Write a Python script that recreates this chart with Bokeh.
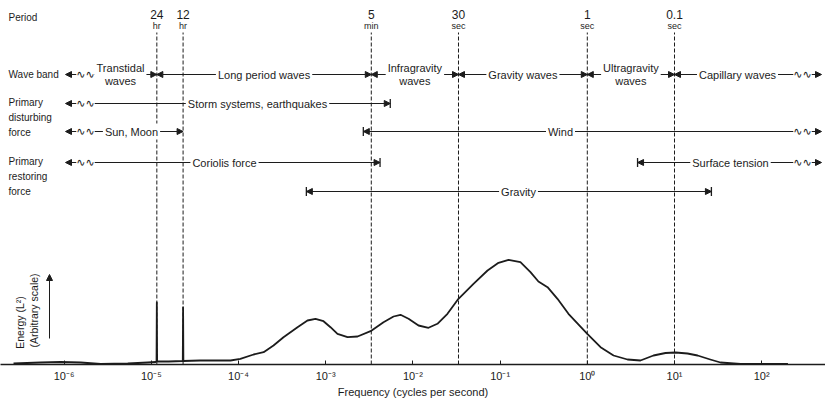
import numpy as np
from bokeh.plotting import figure
from bokeh.models import (Range1d, FixedTicker, Arrow, NormalHead, TeeHead,
                          ColumnDataSource, CustomJSTickFormatter)
from bokeh.core.properties import value
from bokeh.embed import file_html
from bokeh.resources import INLINE

# ---------------- data ----------------
# spectrum (frequency in cycles per second, energy in arbitrary units)
freq = [2.63e-7, 5.37e-7, 9.12e-7, 1.55e-6, 2.63e-6, 5.37e-6, 9.12e-6, 1.12e-5,
        1.148e-5, 1.157e-5, 1.166e-5, 1.58e-5,
        2.296e-5, 2.315e-5, 2.334e-5, 3.63e-5, 8.1e-5,
        1.05e-4, 1.49e-4, 1.94e-4, 2.52e-4, 3.28e-4, 4.75e-4, 6.18e-4, 7.64e-4,
        9.44e-4, 1.135e-3, 1.365e-3, 1.78e-3, 2.32e-3, 3.27e-3, 4.60e-3, 6.0e-3,
        7.21e-3, 8.91e-3, 1.16e-2, 1.51e-2, 1.91e-2, 2.49e-2, 3.33e-2, 4.95e-2,
        7.18e-2, 9.59e-2, 0.125, 0.171, 0.223, 0.275, 0.350, 0.455, 0.608,
        1.0, 1.42, 2.0, 2.89, 4.07, 5.74, 7.89, 10.3, 14.1, 18.4, 25.7, 33.7,
        57.1, 200.0]
energy = [1.0, 2.0, 2.5, 2.0, 0.5, 1.0, 2.0, 2.5,
          3.0, 62.0, 3.0, 3.0,
          3.5, 57.0, 3.5, 4.0, 4.0,
          5.7, 10.0, 12.3, 19.0, 27.3, 37.3, 44.0, 45.7,
          43.3, 37.3, 30.7, 27.3, 28.0, 33.3, 42.3, 48.0,
          49.7, 45.7, 39.0, 36.7, 40.7, 50.7, 65.7, 80.7,
          94.0, 101.7, 104.7, 102.3, 92.3, 83.0, 77.3, 65.7, 50.7,
          30.7, 17.3, 9.0, 5.0, 4.0, 9.0, 11.5, 12.0, 11.0, 9.0, 5.0, 2.0,
          0.5, 0.5]

period_s = [86400, 43200, 300, 30, 1, 0.1]
period_num = ["24", "12", "5", "30", "1", "0.1"]
period_unit = ["hr", "hr", "min", "sec", "sec", "sec"]

tick_exp = [-6, -5, -4, -3, -2, -1, 0, 1, 2]
tick_labels = ["10⁻⁶", "10⁻⁵", "10⁻⁴", "10⁻³", "10⁻²", "10⁻¹", "10⁰", "10¹", "10²"]

band_names = ["Transtidal\nwaves", "Long period waves", "Infragravity\nwaves",
              "Gravity waves", "Ultragravity\nwaves", "Capillary waves"]
band_edge_periods = [86400, 300, 30, 1, 0.1]

# forces: label, left end freq (None = open), right end freq (None = open)
force_names = ["Storm systems, earthquakes", "Sun, Moon", "Wind",
               "Coriolis force", "Surface tension", "Gravity"]
force_left = [None, None, 2.7e-3, None, 3.77, 6.0e-4]
force_right = [5.5e-3, 1.0 / 43200, None, 4.2e-3, None, 26.5]
force_right_bar = [True, False, False, True, False, True]

# ---------------- layout ----------------
W, H = 825, 408
DEC = 87.2                          # px per decade
BASE = 364                          # page y of baseline
INK = "#1c1c1c"
FONT = "Liberation Sans"


def fx(xpage):
    return 10 ** (-4 + (xpage - 238) / DEC)


def fy(ypage):
    return BASE - ypage


p = figure(width=W, height=H, x_axis_type="log",
           x_range=Range1d(fx(0), fx(W)), y_range=Range1d(0, BASE),
           output_backend="svg", toolbar_location=None, y_axis_location=None,
           min_border_left=0, min_border_right=0, min_border_top=0,
           min_border_bottom=H - BASE)
p.grid.visible = False
p.outline_line_color = None
p.background_fill_color = "white"

ax = p.xaxis[0]
ax.ticker = FixedTicker(ticks=[10.0 ** e for e in tick_exp])
ax.formatter = CustomJSTickFormatter(args=dict(labels=tick_labels, exps=tick_exp), code="""
    const e = Math.round(Math.log10(tick));
    const i = exps.indexOf(e);
    return i >= 0 ? labels[i] : "";
""")
ax.major_tick_in = 4
ax.major_tick_out = 0
ax.minor_tick_line_color = None
ax.axis_line_width = 1.6
ax.axis_line_color = INK
ax.major_tick_line_color = INK
ax.major_label_text_font = FONT
ax.major_label_text_font_size = "11px"
ax.major_label_text_color = INK
ax.major_label_standoff = 5
ax.axis_label = "Frequency (cycles per second)"
ax.axis_label_text_font = FONT
ax.axis_label_text_font_size = "11px"
ax.axis_label_text_font_style = "normal"
ax.axis_label_text_color = INK
ax.axis_label_standoff = 1

# period dashed lines
pf = [1.0 / s for s in period_s]
p.segment(x0=pf, y0=[0] * len(pf), x1=pf, y1=[fy(32)] * len(pf),
          line_color=INK, line_width=1, line_dash="4 2")
p.text(x=pf, y=[fy(14)] * len(pf), text=period_num, text_align="center",
       text_baseline="middle", text_font=value(FONT), text_font_size="12px",
       text_color=INK)
p.text(x=pf, y=[fy(25)] * len(pf), text=period_unit, text_align="center",
       text_baseline="middle", text_font=value(FONT), text_font_size="9px",
       text_color=INK)

# spectrum
p.line(freq, energy, line_color=INK, line_width=1.8, line_join="round")

# ---------------- annotation rows ----------------
LEFT_TIP, RIGHT_TIP = fx(65), fx(821)
LEFT_SQ, RIGHT_SQ = fx(85), fx(802)
head_rows = dict(x0=[], y0=[], x1=[], y1=[])
tee_rows = dict(x0=[], y0=[], x1=[], y1=[])
labels = dict(x=[], y=[], t=[])
squig = dict(x=[], y=[])


def add_row(y, center, label, left, right, left_bar, right_bar):
    for end, bar, sq in ((left, left_bar, LEFT_SQ), (right, right_bar, RIGHT_SQ)):
        tip = end
        if end is None:
            tip = LEFT_TIP if sq is LEFT_SQ else RIGHT_TIP
            squig["x"].append(sq)
            squig["y"].append(y)
        for d in (head_rows,) + ((tee_rows,) if bar else ()):
            d["x0"].append(center)
            d["y0"].append(y)
            d["x1"].append(tip)
            d["y1"].append(y)
    labels["x"].append(center)
    labels["y"].append(y)
    labels["t"].append(label)


# wave bands
edges = [None] + [1.0 / s for s in band_edge_periods] + [None]
band_centers_px = {0: 120, 5: 737}
for i, name in enumerate(band_names):
    lo, hi = edges[i], edges[i + 1]
    if lo is not None and hi is not None:
        c = np.sqrt(lo * hi)
    else:
        c = fx(band_centers_px[i])
    add_row(fy(74), c, name, lo, hi, False, False)

force_rows_y = [103, 131, 131, 162, 162, 191]
force_centers_px = [257, 131, 560, 224, 730, 518]
for name, lo, hi, rb, ry, cx in zip(force_names, force_left, force_right,
                                    force_right_bar, force_rows_y, force_centers_px):
    add_row(fy(ry), fx(cx), name, lo, hi, lo is not None, rb)

p.add_layout(Arrow(source=ColumnDataSource(head_rows), x_start="x0", y_start="y0",
                   x_end="x1", y_end="y1", line_color=INK, line_width=1,
                   end=NormalHead(size=6, fill_color=INK, line_color=INK, line_width=1)))
p.add_layout(Arrow(source=ColumnDataSource(tee_rows), x_start="x0", y_start="y0",
                   x_end="x1", y_end="y1", line_color=INK, line_width=1,
                   end=TeeHead(size=9, line_color=INK, line_width=1.3)))

lr = p.text(x="x", y="y", text="t", source=ColumnDataSource(labels),
            text_align="center", text_baseline="middle", text_font=value(FONT),
            text_font_size="11px", text_color=INK, text_line_height=1.1,
            background_fill_color="white", padding=2)
lr.level = "overlay"
sr = p.text(x="x", y="y", text=value("∿∿"), source=ColumnDataSource(squig),
            text_align="center", text_baseline="middle", text_font=value("DejaVu Sans"),
            text_font_size="11px", text_color=INK, background_fill_color="white", padding=0)
sr.level = "overlay"

# left captions
left_txt = ["Period", "Wave band", "Primary\ndisturbing\nforce", "Primary\nrestoring\nforce"]
left_y = [17, 74, 117, 176]
p.text(x=[fx(8)] * 4, y=[fy(v) for v in left_y], text=left_txt, text_align="left",
       text_baseline="middle", text_font=value(FONT), text_font_size="10px",
       text_color=INK, text_line_height=1.35)

# energy axis caption
p.text(x=[fx(19), fx(33)], y=[fy(322), fy(310)], text=["Energy (L²)", "(Arbitrary scale)"],
       angle=np.pi / 2, text_align="center", text_baseline="middle",
       text_font=value(FONT), text_font_size="10.5px", text_color=INK)
p.add_layout(Arrow(x_start=fx(49), y_start=fy(338), x_end=fx(49), y_end=fy(274),
                   line_color=INK, line_width=1,
                   end=NormalHead(size=6, fill_color=INK, line_color=INK, line_width=1)))

open("out.html", "w").write(file_html(p, INLINE))
